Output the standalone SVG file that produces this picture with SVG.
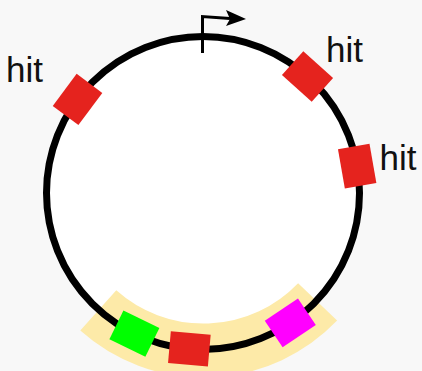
<svg xmlns="http://www.w3.org/2000/svg" width="422" height="371" viewBox="0 0 422 371">
<style>
.lbl{font-family:"Liberation Sans",Arial,sans-serif;font-size:35px;fill:#111}
.box{stroke:none}
.hit{fill:#e5231e}
</style>
<rect width="422" height="371" fill="#f8f8f8"/>
<g id="plasmid-fill"><circle cx="203" cy="193" r="156.5" fill="#ffffff"/></g>
<g id="region">
<path d="M 98.3 310.4 A 158 158 0 0 0 317.6 301.9" fill="none" stroke="#fdeaa8" stroke-width="54"/>
</g>
<g id="plasmid"><circle cx="203" cy="193" r="156.5" fill="none" stroke="#000" stroke-width="7"/></g>
<g id="connectors">
<polyline points="202.5,53 202.5,16.5 230,18.5" fill="none" stroke="#000" stroke-width="3"/>
<polygon points="226,10 246,19 226,26 230,19" fill="#000"/>
</g>
<g id="hit1"><rect class="box hit" x="183" y="20.5" width="40" height="32" transform="rotate(-53.3 203 193)"/><text class="lbl" x="6" y="82">hit</text></g>
<g id="hit2"><rect class="box hit" x="183" y="20.5" width="40" height="32" transform="rotate(41.9 203 193)"/><text class="lbl" x="326" y="62">hit</text></g>
<g id="hit3"><rect class="box hit" x="183" y="20.5" width="40" height="32" transform="rotate(80.1 203 193)"/><text class="lbl" x="379.5" y="170">hit</text></g>
<g id="green"><rect class="box" fill="#00ff00" x="183" y="20.5" width="40" height="32" transform="rotate(206 203 193)"/></g>
<g id="red"><rect class="box hit" x="183" y="20.5" width="40" height="32" transform="rotate(185 203 193)"/></g>
<g id="magenta"><rect class="box" fill="#ff00ff" x="183" y="20.5" width="40" height="32" transform="rotate(146.1 203 193)"/></g>
</svg>
